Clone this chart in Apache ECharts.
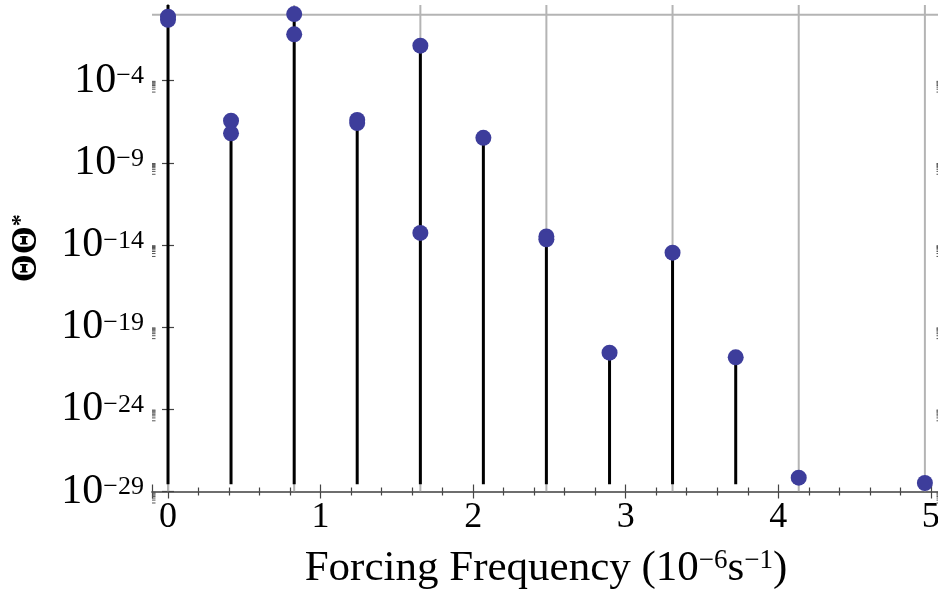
<!DOCTYPE html>
<html>
<head>
<meta charset="utf-8">
<script src="https://cdn.jsdelivr.net/npm/echarts@6/dist/echarts.min.js"></script>
<style>
html,body{margin:0;padding:0;background:#fff;}
#chart{width:938px;height:595px;}
</style>
</head>
<body>
<div id="chart"></div>
<script>
// ---- data ----
const freqs   = [0, 0.413, 0.827, 1.240, 1.654, 2.067, 2.480, 2.894, 3.307, 3.721, 4.134, 4.961];
const valsA   = [0.77, 3.6e-7, 1.12, 4.0e-7, 0.0133, 3.3e-8, 3.3e-14, 2.8e-21, 3.4e-15, 1.45e-21, 6.9e-29, 3.3e-29];
const valsB   = [0.50, 6.2e-8, 0.065, 2.6e-7, 5.4e-14, null, 2.2e-14, null, null, null, null, null];
const valsC   = [6, null, null, null, null, null, null, null, null, null, null, null]; // off-scale point at 0
const stemBase = 2.8e-29;
const gridX   = [0, 0.827, 1.654, 2.480, 3.307, 4.134, 4.961];
const gridY   = [1];
const xTicks  = [0, 1, 2, 3, 4, 5];
const yTickExps = [-29, -24, -19, -14, -9, -4];

const FONT = 'Liberation Serif';
const X_MIN = -0.105, X_MAX = 5.06;
const Y_MIN = 1e-29, Y_MAX = Math.pow(10, 0.6);
const yTickVals = yTickExps.map(e => Math.pow(10, e));

// build point list
const points = [];
[valsA, valsB, valsC].forEach(arr => arr.forEach((v, i) => { if (v != null) points.push([freqs[i], v]); }));
// stem uses highest value per frequency
const stems = freqs.map((f, i) => [f, Math.max(...[valsA[i], valsB[i], valsC[i]].filter(v => v != null))]);

// minor log ticks: k*10^(e-1), k=2..9 below each labelled decade
const minorY = [];
yTickExps.forEach(e => { for (let k = 2; k <= 9; k++) minorY.push([0, k * Math.pow(10, e - 1)]); });

const chart = echarts.init(document.getElementById('chart'));
const tickStyle = {color: '#444', width: 1.2};
const lineStyle = {color: '#666', width: 1.5};

function yLabel(v) {
  const e = Math.log10(v);
  const r = Math.round(e);
  if (Math.abs(e - r) > 0.05 || yTickExps.indexOf(r) < 0) return '';
  return '{b|10}{s|' + (r < 0 ? '\u2212' : '') + Math.abs(r) + '}';
}
function xLabel(v) {
  const r = Math.round(v);
  if (Math.abs(v - r) > 1e-6 || xTicks.indexOf(r) < 0) return '';
  return String(r);
}

const option = {
  animation: false,
  backgroundColor: '#fff',
  grid: {left: 152, top: 5, width: 788, height: 486.5, containLabel: false, outerBoundsMode: 'none'},
  xAxis: [{
    type: 'value', position: 'bottom', min: X_MIN, max: X_MAX,
    axisLine: {show: true, lineStyle: lineStyle},
    axisTick: {show: true, inside: true, length: 7, lineStyle: tickStyle},
    minorTick: {show: true, splitNumber: 5, length: 4, lineStyle: tickStyle},
    splitLine: {show: false},
    axisLabel: {formatter: xLabel, fontFamily: FONT, fontSize: 36, color: '#000', margin: 8},
    name: '{m|Forcing Frequency (10}{s|\u22126}{m|s}{s|\u22121}{m|)}',
    nameLocation: 'middle', nameGap: 56, nameMoveOverlap: false,
    nameTextStyle: {
      rich: {
        m: {fontFamily: FONT, fontSize: 43, color: '#000'},
        s: {fontFamily: FONT, fontSize: 27, color: '#000', verticalAlign: 'top'}
      }
    }
  }, {
    type: 'value', position: 'top', min: X_MIN, max: X_MAX,
    axisLine: {show: true, lineStyle: lineStyle},
    axisTick: {show: true, inside: true, length: 7, lineStyle: tickStyle},
    minorTick: {show: true, splitNumber: 5, length: 4, lineStyle: tickStyle},
    splitLine: {show: false},
    axisLabel: {show: false}
  }],
  yAxis: [{
    type: 'log', logBase: 10, position: 'left', min: Y_MIN, max: Y_MAX,
    axisLine: {show: true, lineStyle: lineStyle},
    axisTick: {show: true, inside: true, length: 6, lineStyle: tickStyle, customValues: yTickVals},
    splitLine: {show: false},
    axisLabel: {
      formatter: yLabel, margin: 8, showMinLabel: true, showMaxLabel: true, hideOverlap: false,
      customValues: yTickVals,
      rich: {
        b: {fontFamily: FONT, fontSize: 42, color: '#000'},
        s: {fontFamily: FONT, fontSize: 26, color: '#000', verticalAlign: 'top', padding: [4, 0, 0, 0]}
      }
    },
    name: '{t|\u0398\u0398}{s|*}',
    nameLocation: 'middle', nameGap: 107, nameRotate: 90, nameMoveOverlap: false,
    nameTextStyle: {
      rich: {
        t: {fontFamily: FONT, fontSize: 36, fontWeight: 'bold', color: '#000'},
        s: {fontFamily: FONT, fontSize: 24, fontWeight: 'bold', color: '#000', verticalAlign: 'top'}
      }
    }
  }, {
    type: 'log', logBase: 10, position: 'right', min: Y_MIN, max: Y_MAX,
    axisLine: {show: true, lineStyle: lineStyle},
    axisTick: {show: true, inside: true, length: 6, lineStyle: tickStyle, customValues: yTickVals},
    splitLine: {show: false},
    axisLabel: {show: false}
  }],
  series: [
    { // vertical grid lines
      type: 'custom', z: 1, silent: true, clip: true,
      data: gridX.map(x => [x, 1]),
      renderItem: function (params, api) {
        const cs = params.coordSys;
        const px = api.coord([api.value(0), 1])[0];
        return {type: 'line', shape: {x1: px, y1: cs.y, x2: px, y2: cs.y + cs.height},
                style: {stroke: '#b4b4b4', lineWidth: 2}};
      }
    },
    { // horizontal grid lines
      type: 'custom', z: 1, silent: true, clip: true,
      data: gridY.map(y => [0, y]),
      renderItem: function (params, api) {
        const cs = params.coordSys;
        const py = api.coord([0, api.value(1)])[1];
        return {type: 'line', shape: {x1: cs.x, y1: py, x2: cs.x + cs.width, y2: py},
                style: {stroke: '#b4b4b4', lineWidth: 2}};
      }
    },
    { // minor log ticks, left and right frames
      type: 'custom', z: 4, silent: true, clip: false,
      data: minorY,
      renderItem: function (params, api) {
        const cs = params.coordSys;
        const py = api.coord([0, api.value(1)])[1];
        return {type: 'group', children: [
          {type: 'line', shape: {x1: cs.x, y1: py, x2: cs.x + 3.5, y2: py}, style: {stroke: '#555', lineWidth: 1}},
          {type: 'line', shape: {x1: cs.x + cs.width, y1: py, x2: cs.x + cs.width - 3.5, y2: py}, style: {stroke: '#555', lineWidth: 1}}
        ]};
      }
    },
    { // stems
      type: 'custom', z: 2, silent: true, clip: true,
      data: stems,
      renderItem: function (params, api) {
        const p1 = api.coord([api.value(0), api.value(1)]);
        const p0 = api.coord([api.value(0), stemBase]);
        return {type: 'line', shape: {x1: p1[0], y1: p1[1], x2: p0[0], y2: p0[1]},
                style: {stroke: '#000', lineWidth: 3}};
      }
    },
    { // points
      type: 'scatter', z: 3, clip: true,
      symbol: 'circle', symbolSize: 16,
      itemStyle: {color: '#3d3d9b', opacity: 1},
      data: points
    }
  ]
};
chart.setOption(option);
</script>
</body>
</html>
